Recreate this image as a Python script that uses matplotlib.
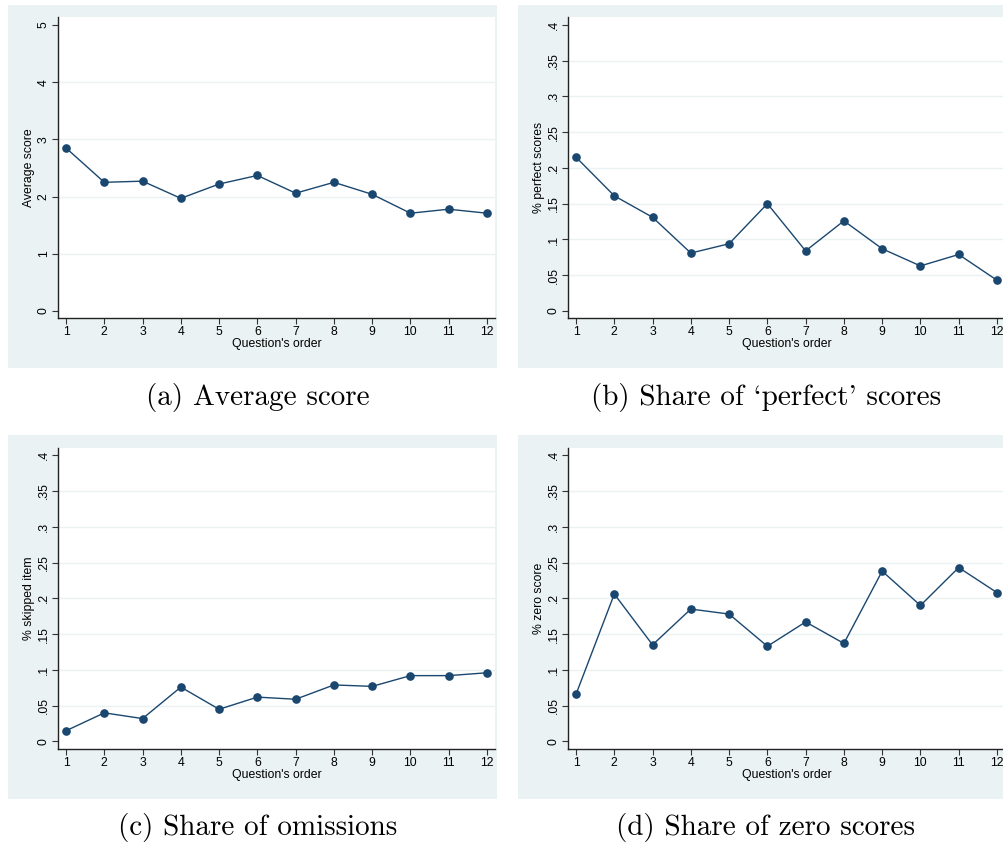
import matplotlib
matplotlib.use("Agg")
import matplotlib.pyplot as plt
import numpy as np

# data
order = list(range(1, 13))
avg_score = [2.85, 2.25, 2.27, 1.97, 2.22, 2.37, 2.06, 2.25, 2.04, 1.71, 1.78, 1.71]
perfect = [0.215, 0.161, 0.131, 0.081, 0.094, 0.150, 0.084, 0.126, 0.087, 0.063, 0.079, 0.043]
skipped = [0.015, 0.040, 0.032, 0.076, 0.045, 0.062, 0.059, 0.079, 0.077, 0.092, 0.092, 0.096]
zero = [0.066, 0.206, 0.135, 0.185, 0.178, 0.133, 0.167, 0.137, 0.238, 0.190, 0.243, 0.208]

avg_ticks = [0, 1, 2, 3, 4, 5]
avg_labels = ["0", "1", "2", "3", "4", "5"]
share_ticks = [0, 0.05, 0.1, 0.15, 0.2, 0.25, 0.3, 0.35, 0.4]
share_labels = ["0", ".05", ".1", ".15", ".2", ".25", ".3", ".35", ".4"]

captions = ["(a) Average score", "(b) Share of `perfect' scores",
            "(c) Share of omissions", "(d) Share of zero scores"]
ylabels = ["Average score", "% perfect scores", "% skipped item", "% zero score"]

W, H = 1004, 844
BG = "#EAF2F3"
NAVY = "#1a476f"
SANS = "Liberation Sans"
FS = 8.8

fig = plt.figure(figsize=(W / 100, H / 100), dpi=100)


def box(x0, y0, x1, y1):
    return [x0 / W, 1 - y1 / H, (x1 - x0) / W, (y1 - y0) / H]


panels = [
    (avg_score, avg_ticks, avg_labels, (-0.122, 5.14), (8, 5, 497, 368), (58, 17, 495, 318), (258, 397)),
    (perfect, share_ticks, share_labels, (-0.0098, 0.411), (518, 5, 1004, 368), (568, 17, 1005, 318), (766, 397)),
    (skipped, share_ticks, share_labels, (-0.0105, 0.41), (8, 435, 497, 799), (58, 448, 495, 749), (258, 828)),
    (zero, share_ticks, share_labels, (-0.0105, 0.41), (518, 435, 1004, 799), (568, 448, 1005, 749), (766, 828)),
]

for i, (vals, ticks, tlabels, ylim, bgbox, axbox, cap) in enumerate(panels):
    bg = fig.add_axes(box(*bgbox))
    bg.set_facecolor(BG)
    bg.set_xticks([])
    bg.set_yticks([])
    for s in bg.spines.values():
        s.set_visible(False)

    ax = fig.add_axes(box(*axbox))
    ax.set_facecolor("white")
    ax.set_xlim(0.79, 12.21)
    ax.set_ylim(*ylim)
    for t in ticks[1:-1]:
        ax.axhline(t, color=BG, lw=1.0, zorder=0)
    ax.plot(order, vals, color=NAVY, lw=1.0, marker="o", ms=5.2, zorder=3)

    ax.set_xticks(order)
    ax.set_xticklabels([str(o) for o in order], fontsize=FS, family=SANS)
    ax.set_yticks(ticks)
    ax.set_yticklabels(tlabels, fontsize=FS, family=SANS, rotation=90, va="center")
    ax.tick_params(length=4, width=0.8, color="#333333", pad=2)
    ax.set_xlabel("Question's order", fontsize=FS, family=SANS, labelpad=0)
    ax.set_ylabel(ylabels[i], fontsize=FS, family=SANS, labelpad=2)
    for s in ["top", "right"]:
        ax.spines[s].set_visible(False)
    for s in ["left", "bottom"]:
        ax.spines[s].set_color("#222222")
        ax.spines[s].set_linewidth(1.0)

    fig.text(cap[0] / W, 1 - cap[1] / H, captions[i], fontsize=21,
             family=["cmr10", "DejaVu Serif"], ha="center", va="center")

fig.savefig("out.png", dpi=100)
